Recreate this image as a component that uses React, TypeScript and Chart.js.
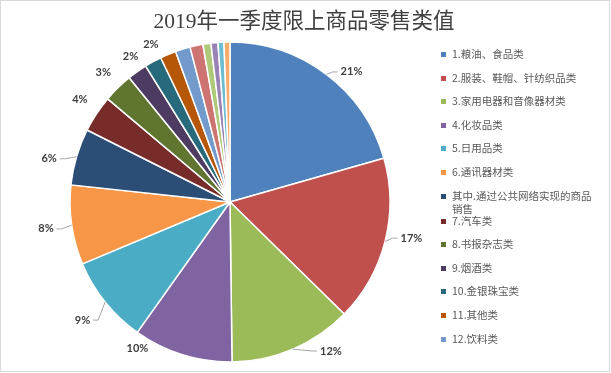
import React, { useEffect, useRef } from "react";
import { Chart, registerables } from "chart.js";

Chart.register(...registerables);

const TITLE = "2019年一季度限上商品零售类值";

const categories = [
  "1.粮油、食品类",
  "2.服装、鞋帽、针纺织品类",
  "3.家用电器和音像器材类",
  "4.化妆品类",
  "5.日用品类",
  "6.通讯器材类",
  "其中.通过公共网络实现的商品销售",
  "7.汽车类",
  "8.书报杂志类",
  "9.烟酒类",
  "10.金银珠宝类",
  "11.其他类",
  "12.饮料类",
  "13.中西药品类",
  "14.文化办公用品类",
  "15.家具类",
  "16.体育娱乐用品类",
  "17.建筑及装潢材料类",
];

const values = [20.5, 16.7, 12.4, 10.0, 8.8, 8.0, 5.7, 3.7, 3.0, 2.0, 1.7, 1.6, 1.5, 1.3, 0.8, 0.7, 0.6, 0.6];

const colors = [
  "#4F81BD", "#C0504D", "#9BBB59", "#8064A2", "#4BACC6", "#F79646",
  "#2C4D75", "#772C2A", "#5F7530", "#4D3B62", "#276A7C", "#B65708",
  "#729ACA", "#CD7371", "#AFC97A", "#9983B5", "#6FBDD1", "#F9AB6B",
];

// legend in the reference is truncated after this many entries
const LEGEND_VISIBLE = 13;
// slices smaller than this share get no data label
const LABEL_MIN_PCT = 1.65;

// label layout: [angle nudge (deg), label radius (px), has leader line]
const LABEL_LAYOUT: [number, number, number][] = [
  [6, 178, 1], [-3, 185, 1], [-11, 180, 1], [15, 173, 0], [0, 189, 1], [0, 186, 1],
  [-3, 186, 1], [1, 182, 0], [0, 181, 0], [1, 176, 0], [2, 176, 0],
];

export default function App() {
  const ref = useRef<HTMLCanvasElement>(null);

  useEffect(() => {
    document.body.style.margin = "0";
    const canvas = ref.current!;
    const total = values.reduce((a, b) => a + b, 0);

    const overlay = {
      id: "overlay",
      afterDraw(chart: any) {
        const ctx: CanvasRenderingContext2D = chart.ctx;
        ctx.save();

        // frame
        ctx.strokeStyle = "#d9d9d9";
        ctx.lineWidth = 1;
        ctx.strokeRect(0.5, 0.5, 609, 371);

        // title
        ctx.fillStyle = "#404040";
        ctx.font = "21.5px 'Liberation Serif', 'Noto Sans CJK SC', serif";
        ctx.textAlign = "center";
        ctx.textBaseline = "middle";
        ctx.fillText(TITLE, 304, 22);

        // data labels
        const meta = chart.getDatasetMeta(0);
        ctx.font = "bold 11px Lato, 'Liberation Sans', sans-serif";
        meta.data.forEach((arc: any, i: number) => {
          const pct = (values[i] / total) * 100;
          if (pct < LABEL_MIN_PCT) return;
          const p = arc.getProps(["x", "y", "startAngle", "endAngle", "outerRadius"], true);
          const mid = (p.startAngle + p.endAngle) / 2;
          const lay = LABEL_LAYOUT[i] || [0, 182, 0];
          const a = mid + (lay[0] * Math.PI) / 180;
          const lx = p.x + lay[1] * Math.cos(a);
          const ly = p.y + lay[1] * Math.sin(a);
          const txt = Math.round(pct) + "%";
          const w = ctx.measureText(txt).width;
          if (lay[2]) {
            const right = lx > p.x;
            const sx = right ? lx - w / 2 - 3 : lx + w / 2 + 3;
            const ex = p.x + p.outerRadius * Math.cos(mid);
            const ey = p.y + p.outerRadius * Math.sin(mid);
            const elx = right ? sx - 5 : sx + 5;
            ctx.strokeStyle = "#a6a6a6";
            ctx.lineWidth = 1;
            ctx.beginPath();
            ctx.moveTo(sx, ly);
            ctx.lineTo(elx, ly);
            ctx.lineTo(ex, ey);
            ctx.stroke();
          }
          ctx.fillStyle = "#404040";
          ctx.textAlign = "center";
          ctx.textBaseline = "middle";
          ctx.fillText(txt, lx, ly);
        });

        // legend
        ctx.font = "10.5px 'Noto Sans CJK SC', sans-serif";
        ctx.textAlign = "left";
        ctx.textBaseline = "middle";
        const maxW = 146;
        let y = 54;
        for (let i = 0; i < Math.min(LEGEND_VISIBLE, categories.length); i++) {
          // wrap by characters
          const lines: string[] = [];
          let cur = "";
          for (const ch of Array.from(categories[i])) {
            if (ctx.measureText(cur + ch).width > maxW && cur) {
              lines.push(cur);
              cur = ch;
            } else cur += ch;
          }
          lines.push(cur);
          ctx.fillStyle = colors[i];
          ctx.fillRect(441, Math.round(y) - 2, 5, 5);
          ctx.fillStyle = "#595959";
          lines.forEach((ln, k) => ctx.fillText(ln, 452, y + k * 13.3));
          y += 23.6 + (lines.length - 1) * 1.4;
        }
        ctx.restore();
      },
    };

    const chart = new Chart(canvas, {
      type: "pie",
      data: {
        labels: categories,
        datasets: [
          {
            data: values,
            backgroundColor: colors,
            borderColor: "#ffffff",
            borderWidth: 1.5,
          },
        ],
      },
      options: {
        responsive: false,
        animation: false,
        radius: 160,
        layout: { padding: { left: 70, right: 221, top: 42, bottom: 11 } },
        plugins: {
          legend: { display: false },
          tooltip: { enabled: false },
          title: { display: false },
        },
      } as any,
      plugins: [overlay],
    });
    return () => chart.destroy();
  }, []);

  return (
    <div style={{ position: "fixed", left: 0, top: 0, width: 611, height: 373, background: "#fff" }}>
      <canvas ref={ref} width={611} height={373} style={{ display: "block" }} />
    </div>
  );
}
